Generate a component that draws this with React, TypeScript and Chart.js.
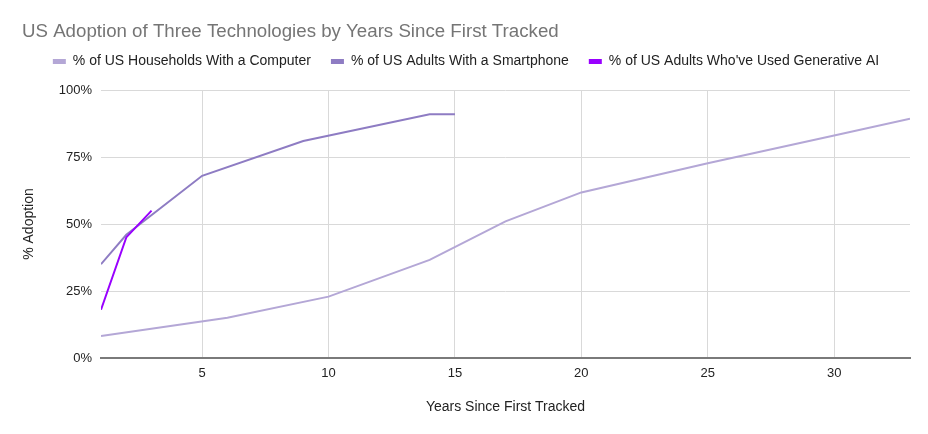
import React, { useEffect, useRef } from "react";
import { Chart, registerables } from "chart.js";

Chart.register(...registerables);

const TITLE = "US Adoption of Three Technologies by Years Since First Tracked";
const SERIES_NAMES = [
  "% of US Households With a Computer",
  "% of US Adults With a Smartphone",
  "% of US Adults Who've Used Generative AI",
];

const computerYears = [1, 6, 10, 14, 17, 20, 25, 30, 33];
const computerPct = [8.2, 15, 22.9, 36.6, 51, 61.8, 72.7, 83, 89.3];

const smartphoneYears = [1, 2, 5, 9, 14, 15];
const smartphonePct = [35, 46, 68, 81, 91, 91];

const genAiYears = [1, 2, 3];
const genAiPct = [18, 45, 55];

const xTicks = [5, 10, 15, 20, 25, 30];
const yTicks = [0, 25, 50, 75, 100];

const COLORS = ["#b4a7d6", "#8e7cc3", "#9900ff"];
const FONT = "'Liberation Sans', Arial, Helvetica, sans-serif";

function pts(xs: number[], ys: number[]) {
  return xs.map((x, i) => ({ x, y: ys[i] }));
}

export default function App() {
  const ref = useRef<HTMLCanvasElement | null>(null);

  useEffect(() => {
    if (!ref.current) return;
    const mk = (i: number, xs: number[], ys: number[], order: number) => ({
      label: SERIES_NAMES[i],
      data: pts(xs, ys),
      borderColor: COLORS[i],
      backgroundColor: COLORS[i],
      borderWidth: 2,
      pointRadius: 0,
      tension: 0,
      order,
    });
    const chart = new Chart(ref.current, {
      type: "line",
      data: {
        datasets: [
          mk(0, computerYears, computerPct, 2),
          mk(1, smartphoneYears, smartphonePct, 1),
          mk(2, genAiYears, genAiPct, 0),
        ],
      },
      options: {
        responsive: false,
        animation: false,
        layout: { padding: { top: 0, right: 18, left: 22, bottom: 0 } },
        plugins: {
          title: {
            display: true,
            text: TITLE,
            align: "start",
            color: "#757575",
            font: { family: FONT, size: 18.7, weight: "normal" },
            padding: { top: 20.8, bottom: -8.8 },
          },
          subtitle: {
            display: true,
            text: "",
            weight: 500,
            font: { family: FONT, size: 1 },
            padding: { top: 10.4, bottom: 0 },
          },
          legend: {
            display: true,
            align: "center",
            labels: {
              color: "#222",
              font: { family: FONT, size: 14 },
              boxWidth: 13,
              boxHeight: 5,
              padding: 20,
              sort: (a: any, b: any) => a.datasetIndex - b.datasetIndex,
              generateLabels: (c: any) =>
                (Chart.defaults.plugins.legend.labels as any)
                  .generateLabels(c)
                  .map((l: any) => ({ ...l, lineWidth: 0 })),
            },
          },
          tooltip: { enabled: false },
        },
        scales: {
          x: {
            type: "linear",
            min: 1,
            max: 33,
            afterBuildTicks: (s: any) => {
              s.ticks = xTicks.map((v) => ({ value: v }));
            },
            afterFit: (s: any) => {
              s.height = 76;
            },
            grid: { color: "#d9d9d9", drawTicks: false },
            border: { display: true, color: "#7a7a7a", width: 2 },
            ticks: {
              color: "#222",
              font: { family: FONT, size: 13 },
              padding: 8,
              maxRotation: 0,
            },
            title: {
              display: true,
              text: "Years Since First Tracked",
              color: "#222",
              font: { family: FONT, size: 14 },
              padding: { top: 0, bottom: 18 },
            },
          },
          y: {
            type: "linear",
            min: 0,
            max: 100,
            afterBuildTicks: (s: any) => {
              s.ticks = yTicks.map((v) => ({ value: v }));
            },
            afterFit: (s: any) => {
              s.width = 79;
            },
            grid: {
              color: (ctx: any) => (ctx.tick && ctx.tick.value === 0 ? "rgba(0,0,0,0)" : "#d9d9d9"),
              drawTicks: false,
            },
            border: { display: false },
            ticks: {
              color: "#222",
              font: { family: FONT, size: 13 },
              padding: 9,
              callback: (v: any) => v + "%",
            },
            title: {
              display: true,
              text: "% Adoption",
              color: "#222",
              font: { family: FONT, size: 14 },
              padding: { top: -1, bottom: 0 },
            },
          },
        },
      },
    } as any);
    return () => chart.destroy();
  }, []);

  return (
    <div style={{ position: "fixed", left: 0, top: 0, width: 928, height: 434, background: "#fff" }}>
      <canvas ref={ref} width={928} height={434} />
    </div>
  );
}
